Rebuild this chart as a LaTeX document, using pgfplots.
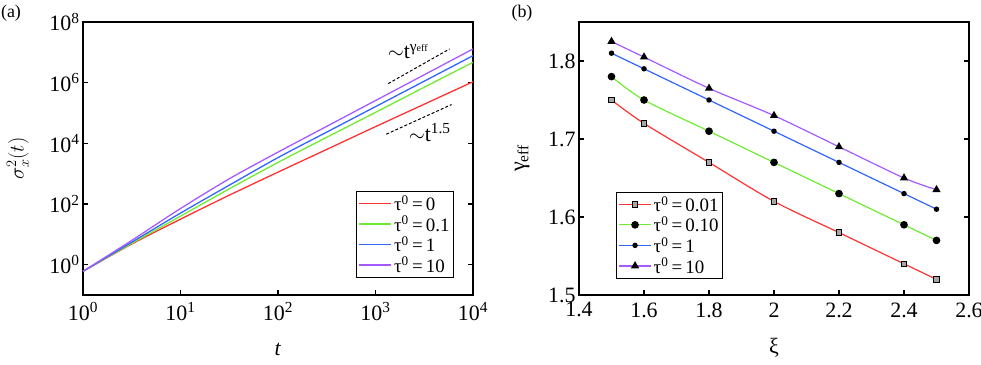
\documentclass[border=0pt]{standalone}
\usepackage{fontspec}
\setmainfont{Liberation Serif}
\usepackage{pgfplots}
\pgfplotsset{compat=1.18}

\definecolor{cred}{RGB}{255,50,50}
\definecolor{cgreen}{RGB}{110,235,50}
\definecolor{cblue}{RGB}{50,100,255}
\definecolor{cpurple}{RGB}{165,90,255}

\pgfplotsset{
  myaxis/.style={
    scale only axis, width=390bp, height=273bp,
    axis line style={line width=1.2pt},
    tick align=inside, tick style={black, line width=1.2pt},
    major tick length=5bp,
    xtick pos=bottom,
    tick label style={font=\fontsize{22}{26}\selectfont},
    xticklabel style={yshift=-4bp},
    label style={font=\fontsize{22}{26}\selectfont},
    /pgf/number format/assume math mode=true,
    legend cell align=left,
    legend image code/.code={\draw[mark repeat=2, mark phase=2, #1]
      plot coordinates {(0bp,0.3bp) (16bp,0.3bp) (32bp,0.3bp)};},
  },
}

\begin{document}
\begin{tikzpicture}
\path[use as bounding box] (-83bp,-70bp) rectangle (898bp,295bp);

% (a)
\begin{axis}[myaxis,
  xmode=log, ymode=log,
  xmin=1, xmax=1e4, ymin=0.1, ymax=1e8,
  xtick={1,10,100,1000,10000},
  ytick={1,100,1e4,1e6,1e8},
  minor tick num=0, minor tick style={draw=none},
  log number format basis/.code 2 args={#1\textsuperscript{\pgfmathprintnumber{#2}}},
  xlabel={\textit{t}},
  ylabel={$\sigma_x^2(t)$},
  xlabel style={at={(axis description cs:0.5,-0.2)}, anchor=center},
  ylabel style={at={(axis description cs:-0.167,0.5)}, anchor=center},
  legend style={at={(axis description cs:0.951,0.062)}, anchor=south east,
    font=\fontsize{19}{22}\selectfont, draw=black, line width=0.8pt,
    inner sep=2bp, row sep=0bp},
]
\addplot[draw=cred, line width=1.3pt, smooth] coordinates {
  (1,0.603) (3.162,4.79) (10,31.6) (31.62,195) (100,1122) (316.2,6310) (1000,35480) (3162,1.95e5) (10000,1.07e6)};
\addplot[draw=cgreen, line width=1.3pt, smooth] coordinates {
  (1,0.603) (3.162,5.01) (10,39.8) (31.62,316) (100,2344) (316.2,15850) (1000,1.047e5) (3162,7.08e5) (10000,4.68e6)};
\addplot[draw=cblue, line width=1.3pt, smooth] coordinates {
  (1,0.603) (3.162,5.50) (10,50.1) (31.62,417) (100,3388) (316.2,23440) (1000,1.62e5) (3162,1.12e6) (10000,7.76e6)};
\addplot[draw=cpurple, line width=1.3pt, smooth] coordinates {
  (1,0.603) (3.162,6.31) (10,70.8) (31.62,676) (100,5129) (316.2,36310) (1000,2.57e5) (3162,1.82e6) (10000,1.29e7)};
\legend{τ\textsuperscript{0}\,=\,0, τ\textsuperscript{0}\,=\,0.1, τ\textsuperscript{0}\,=\,1, τ\textsuperscript{0}\,=\,10}
% guide lines
\addplot[black, densely dashed, line width=1pt, forget plot] coordinates {(1350,9.3e5) (5750,1.29e7)};
\addplot[black, densely dashed, line width=1pt, forget plot] coordinates {(1290,2.0e4) (6030,1.9e5)};
\node[font=\fontsize{22}{26}\selectfont] at (axis cs:2150,1.05e7) {$\sim$t\textsuperscript{γ{\fontsize{10}{11}\selectfont eff}}};
\node[font=\fontsize{22}{26}\selectfont] at (axis cs:3600,2.3e4) {$\sim$t\textsuperscript{1.5}};
\end{axis}

% (b)
\begin{axis}[myaxis, at={(496bp,0)},
  xmin=1.4, xmax=2.6, ymin=1.5, ymax=1.85,
  xtick={1.4,1.6,...,2.6},
  ytick={1.5,1.6,1.7,1.8},
  xticklabel style={/pgf/number format/fixed, /pgf/number format/precision=1},
  yticklabel style={/pgf/number format/fixed, /pgf/number format/fixed zerofill, /pgf/number format/precision=1},
  xlabel={ξ},
  ylabel={γ\textsubscript{eff}},
  xlabel style={at={(axis description cs:0.5,-0.195)}, anchor=center},
  ylabel style={at={(axis description cs:-0.146,0.5)}, anchor=center},
  legend style={at={(axis description cs:0.095,0.059)}, anchor=south west,
    font=\fontsize{19}{22}\selectfont, draw=black, line width=0.8pt,
    inner sep=2bp, row sep=0bp},
]
\addplot[draw=cred, line width=1.2pt, smooth, mark=square*, mark size=2.8bp,
  mark options={draw=black, fill=gray!70, line width=0.8pt}] coordinates {
  (1.5,1.75) (1.6,1.72) (1.8,1.67) (2.0,1.62) (2.2,1.58) (2.4,1.54) (2.5,1.52)};
\addplot[draw=cgreen, line width=1.2pt, smooth, mark=*, mark size=3.2bp,
  mark options={draw=black, fill=black}] coordinates {
  (1.5,1.78) (1.6,1.75) (1.8,1.71) (2.0,1.67) (2.2,1.63) (2.4,1.59) (2.5,1.57)};
\addplot[draw=cblue, line width=1.2pt, smooth, mark=*, mark size=2.1bp,
  mark options={draw=black, fill=black}] coordinates {
  (1.5,1.81) (1.6,1.79) (1.8,1.75) (2.0,1.71) (2.2,1.67) (2.4,1.63) (2.5,1.61)};
\addplot[draw=cpurple, line width=1.2pt, smooth, mark=triangle*, mark size=3.6bp,
  mark options={draw=black, fill=black}] coordinates {
  (1.5,1.825) (1.6,1.805) (1.8,1.765) (2.0,1.73) (2.2,1.69) (2.4,1.65) (2.5,1.635)};
\legend{τ\textsuperscript{0}\,=\,0.01, τ\textsuperscript{0}\,=\,0.10, τ\textsuperscript{0}\,=\,1, τ\textsuperscript{0}\,=\,10}
\end{axis}

\node[font=\fontsize{18}{21}\selectfont] at (-72bp,282bp) {(a)};
\node[font=\fontsize{18}{21}\selectfont] at (439bp,282bp) {(b)};
\end{tikzpicture}
\end{document}
